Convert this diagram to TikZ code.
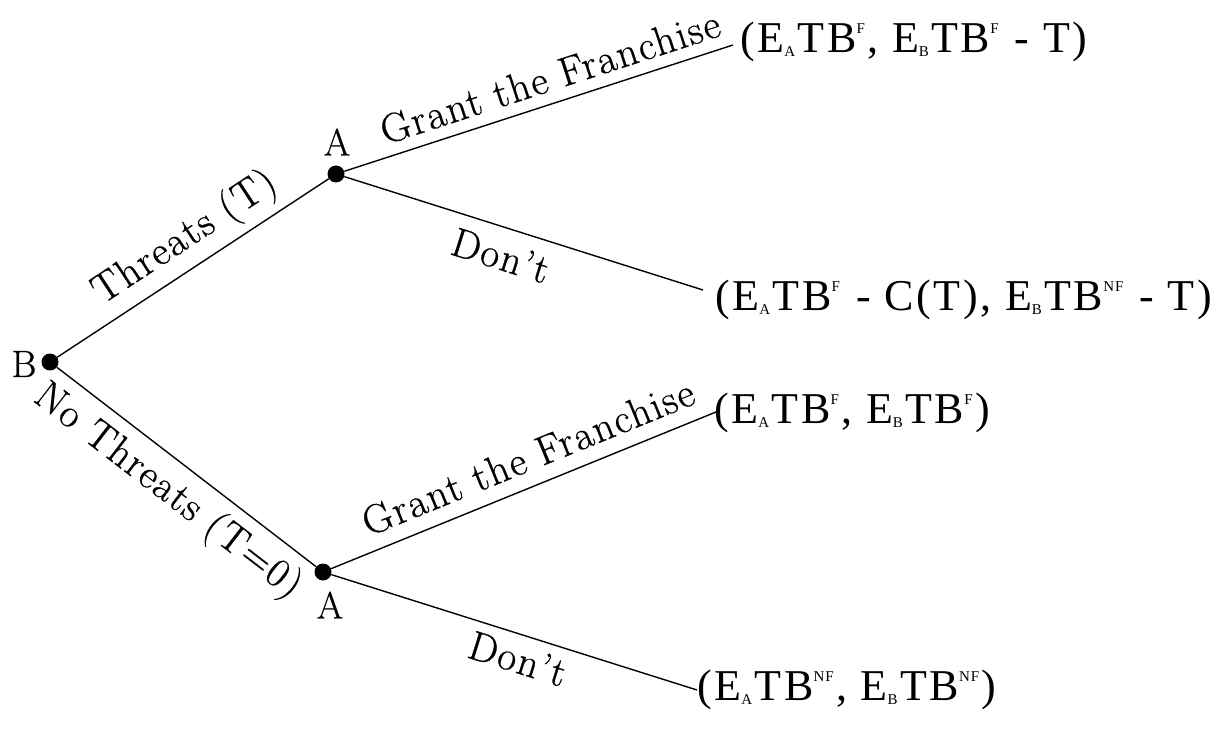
\documentclass[tikz,border=0pt]{standalone}
\usepackage{fontspec}
\newfontfamily\payfont{Liberation Serif}[LetterSpace=6]
\newfontfamily\lblfont{Latin Modern Roman}[LetterSpace=4,FakeBold=0.6]
\newfontfamily\plfont{Latin Modern Roman}[FakeBold=0.6]
\newcommand{\lo}[1]{\raisebox{-0.2ex}{\fontsize{15}{15}\selectfont #1}\hspace{2.5pt}}
\newcommand{\hi}[1]{\raisebox{0.95ex}{\fontsize{15}{15}\selectfont #1}\hspace{2.5pt}}
\begin{document}
\begin{tikzpicture}[x=1pt,y=-1pt,
  dot/.style={circle,fill=black,inner sep=0pt,minimum size=17pt},
  branch/.style={line width=1.4pt},
  lbl/.style={font=\lblfont\fontsize{41}{45}\selectfont,sloped,inner sep=0pt},
  pay/.style={font=\payfont\fontsize{44}{48}\selectfont,anchor=west,inner sep=0pt},
  player/.style={font=\plfont\fontsize{38}{42}\selectfont,inner sep=0pt}]
\useasboundingbox (0,0) rectangle (1231,735);
\node[dot] (B) at (50,362) {};
\node[dot] (A1) at (336,174) {};
\node[dot] (A2) at (323,572) {};
\coordinate (e1) at (733,45);
\coordinate (e2) at (703,290);
\coordinate (e3) at (716,412);
\coordinate (e4) at (697,690);
\node[player] (lB) at (24,364) {B};
\node[player] (lA1) at (337,142) {A};
\node[player] (lA2) at (330,605) {A};
\draw[branch] (B) -- node[lbl,above=8pt,pos=0.53] (t1) {Threats (T)} (A1);
\draw[branch] (B) -- node[lbl,below=10pt,pos=0.5] (t2) {No Threats (T=0)} (A2);
\draw[branch] (A1) -- node[lbl,above=11pt,pos=0.55] (t3) {Grant the Franchise} (e1);
\draw[branch] (A1) -- node[lbl,below=13pt,pos=0.46] (t4) {Don’t} (e2);
\draw[branch] (A2) -- node[lbl,above=14pt,pos=0.54] (t5) {Grant the Franchise} (e3);
\draw[branch] (A2) -- node[lbl,below=9pt,pos=0.53] (t6) {Don’t} (e4);
\node[pay] (p1) at (740,42) {(E\lo{A}TB\hi{F}, E\lo{B}TB\hi{F} - T)};
\node[pay] (p2) at (715,300) {(E\lo{A}TB\hi{F} - C(T), E\lo{B}TB\hi{NF} - T)};
\node[pay] (p3) at (714,413) {(E\lo{A}TB\hi{F}, E\lo{B}TB\hi{F})};
\node[pay] (p4) at (697,690) {(E\lo{A}TB\hi{NF}, E\lo{B}TB\hi{NF})};
\end{tikzpicture}
\end{document}
